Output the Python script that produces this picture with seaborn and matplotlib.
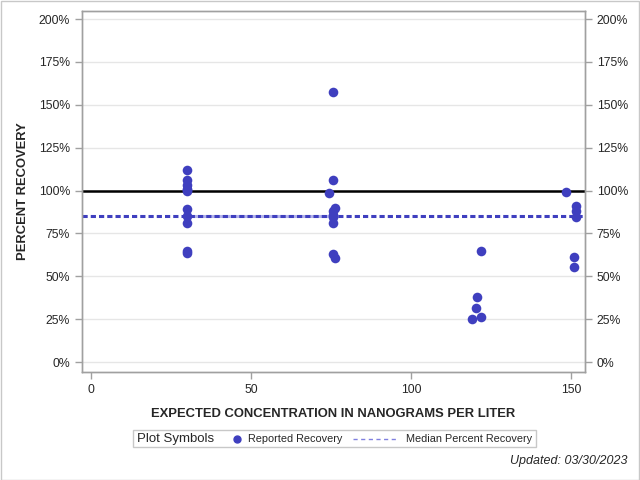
import numpy as np
import pandas as pd
import matplotlib
matplotlib.use('Agg')
import matplotlib.pyplot as plt
import seaborn as sns
from matplotlib.lines import Line2D
from matplotlib.patches import Rectangle
from matplotlib.ticker import FuncFormatter

# Data
expected = [30, 30, 30, 30, 30, 30, 30, 30, 30, 30, 30,
            74.5, 75.6, 76.3, 75.6, 75.6, 75.6, 75.6, 75.6, 76.2, 75.6,
            121.9, 120.8, 120.2, 119.2, 121.8,
            148.4, 151.6, 151.6, 151.6, 150.9, 150.9]
recovery = [111.8, 106, 103.5, 101, 99.6, 89.2, 85.1, 80.9, 64.5, 63.7, 100.5,
            98.7, 106, 89.8, 88, 84.4, 80.9, 63, 157.5, 60.5, 86,
            64.9, 37.7, 31.5, 24.9, 26.2,
            98.9, 91, 88.2, 84.7, 61, 55.6]
median_recovery = 85.2
# faint band under the median line, between these two spike levels
median_band = [30, 75.6]
y_ticks = [0, 25, 50, 75, 100, 125, 150, 175, 200]
x_ticks = [0, 50, 100, 150]

df = pd.DataFrame({'expected': expected, 'recovery': recovery})

blue = '#3f3fbf'
sns.set_style('white')
plt.rcParams['font.family'] = ['Liberation Sans', 'DejaVu Sans']

fig = plt.figure(figsize=(6.4, 4.8), dpi=100)
ax = fig.add_axes([0.128, 0.225, 0.786, 0.752])

for t in y_ticks:
    ax.axhline(t, color='#e6e6e6', lw=1, zorder=0)
ax.axhline(100, color='black', lw=1.8, zorder=1)
ax.plot(median_band, [median_recovery] * 2, color='#b4b4ea', lw=2.2, zorder=1.5)
ax.axhline(median_recovery, color=blue, lw=2.2, ls=(0, (1.7, 1.0)), zorder=2)

sns.scatterplot(data=df, x='expected', y='recovery', ax=ax, color=blue,
                s=48, edgecolor=blue, linewidth=0, zorder=3, legend=False)

ax.set_xlim(-2.8, 154.4)
ax.set_ylim(-5.8, 204.7)
ax.set_xticks(x_ticks)
ax.set_yticks(y_ticks)
pct = FuncFormatter(lambda v, p: f'{v:.0f}%')
ax.yaxis.set_major_formatter(pct)
ax.set_xlabel('EXPECTED CONCENTRATION IN NANOGRAMS PER LITER',
              fontsize=9.4, fontweight='bold', labelpad=9)
ax.set_ylabel('PERCENT RECOVERY', fontsize=9.4, fontweight='bold', labelpad=7)
ax.tick_params(axis='both', which='both', length=5, width=1, color='#a0a0a0',
               labelsize=8.8, direction='out', left=True, bottom=True)

ax2 = ax.twinx()
ax2.set_ylim(ax.get_ylim())
ax2.set_yticks(y_ticks)
ax2.yaxis.set_major_formatter(pct)
ax2.tick_params(axis='y', length=5, width=1, color='#a0a0a0', labelsize=8.8,
                direction='out', right=True)

for a in (ax, ax2):
    for sp in a.spines.values():
        sp.set_color('#a0a0a0')
        sp.set_linewidth(1)

# legend box, laid out in pixel positions of the figure
def fx(px):
    return px / 640

def fy(py):
    return 1 - py / 480

ly = fy(438.5)
fig.patches.append(Rectangle((fx(133), fy(447)), fx(536 - 133), 17 / 480,
                             transform=fig.transFigure, fill=False,
                             edgecolor='#c8c8c8', lw=1))
fig.text(fx(137), fy(439), 'Plot Symbols', fontsize=9.5, va='center')
fig.lines.append(Line2D([fx(237)], [ly], marker='o', ls='none', color=blue,
                        markersize=5, transform=fig.transFigure))
fig.text(fx(248), ly, 'Reported Recovery', fontsize=7.8, va='center')
fig.lines.append(Line2D([fx(353), fx(398)], [ly, ly], color='#8080e0', lw=1,
                        ls=(0, (3, 2.5)), transform=fig.transFigure))
fig.text(fx(406), ly, 'Median Percent Recovery', fontsize=7.8, va='center')

fig.text(fx(627), fy(461), 'Updated: 03/30/2023', fontsize=9,
         style='italic', ha='right', va='center')

fig.patches.append(Rectangle((0.001, 0.001), 0.997, 0.997, transform=fig.transFigure,
                             fill=False, edgecolor='#c8c8c8', lw=1))

fig.savefig('out.png', dpi=100)
